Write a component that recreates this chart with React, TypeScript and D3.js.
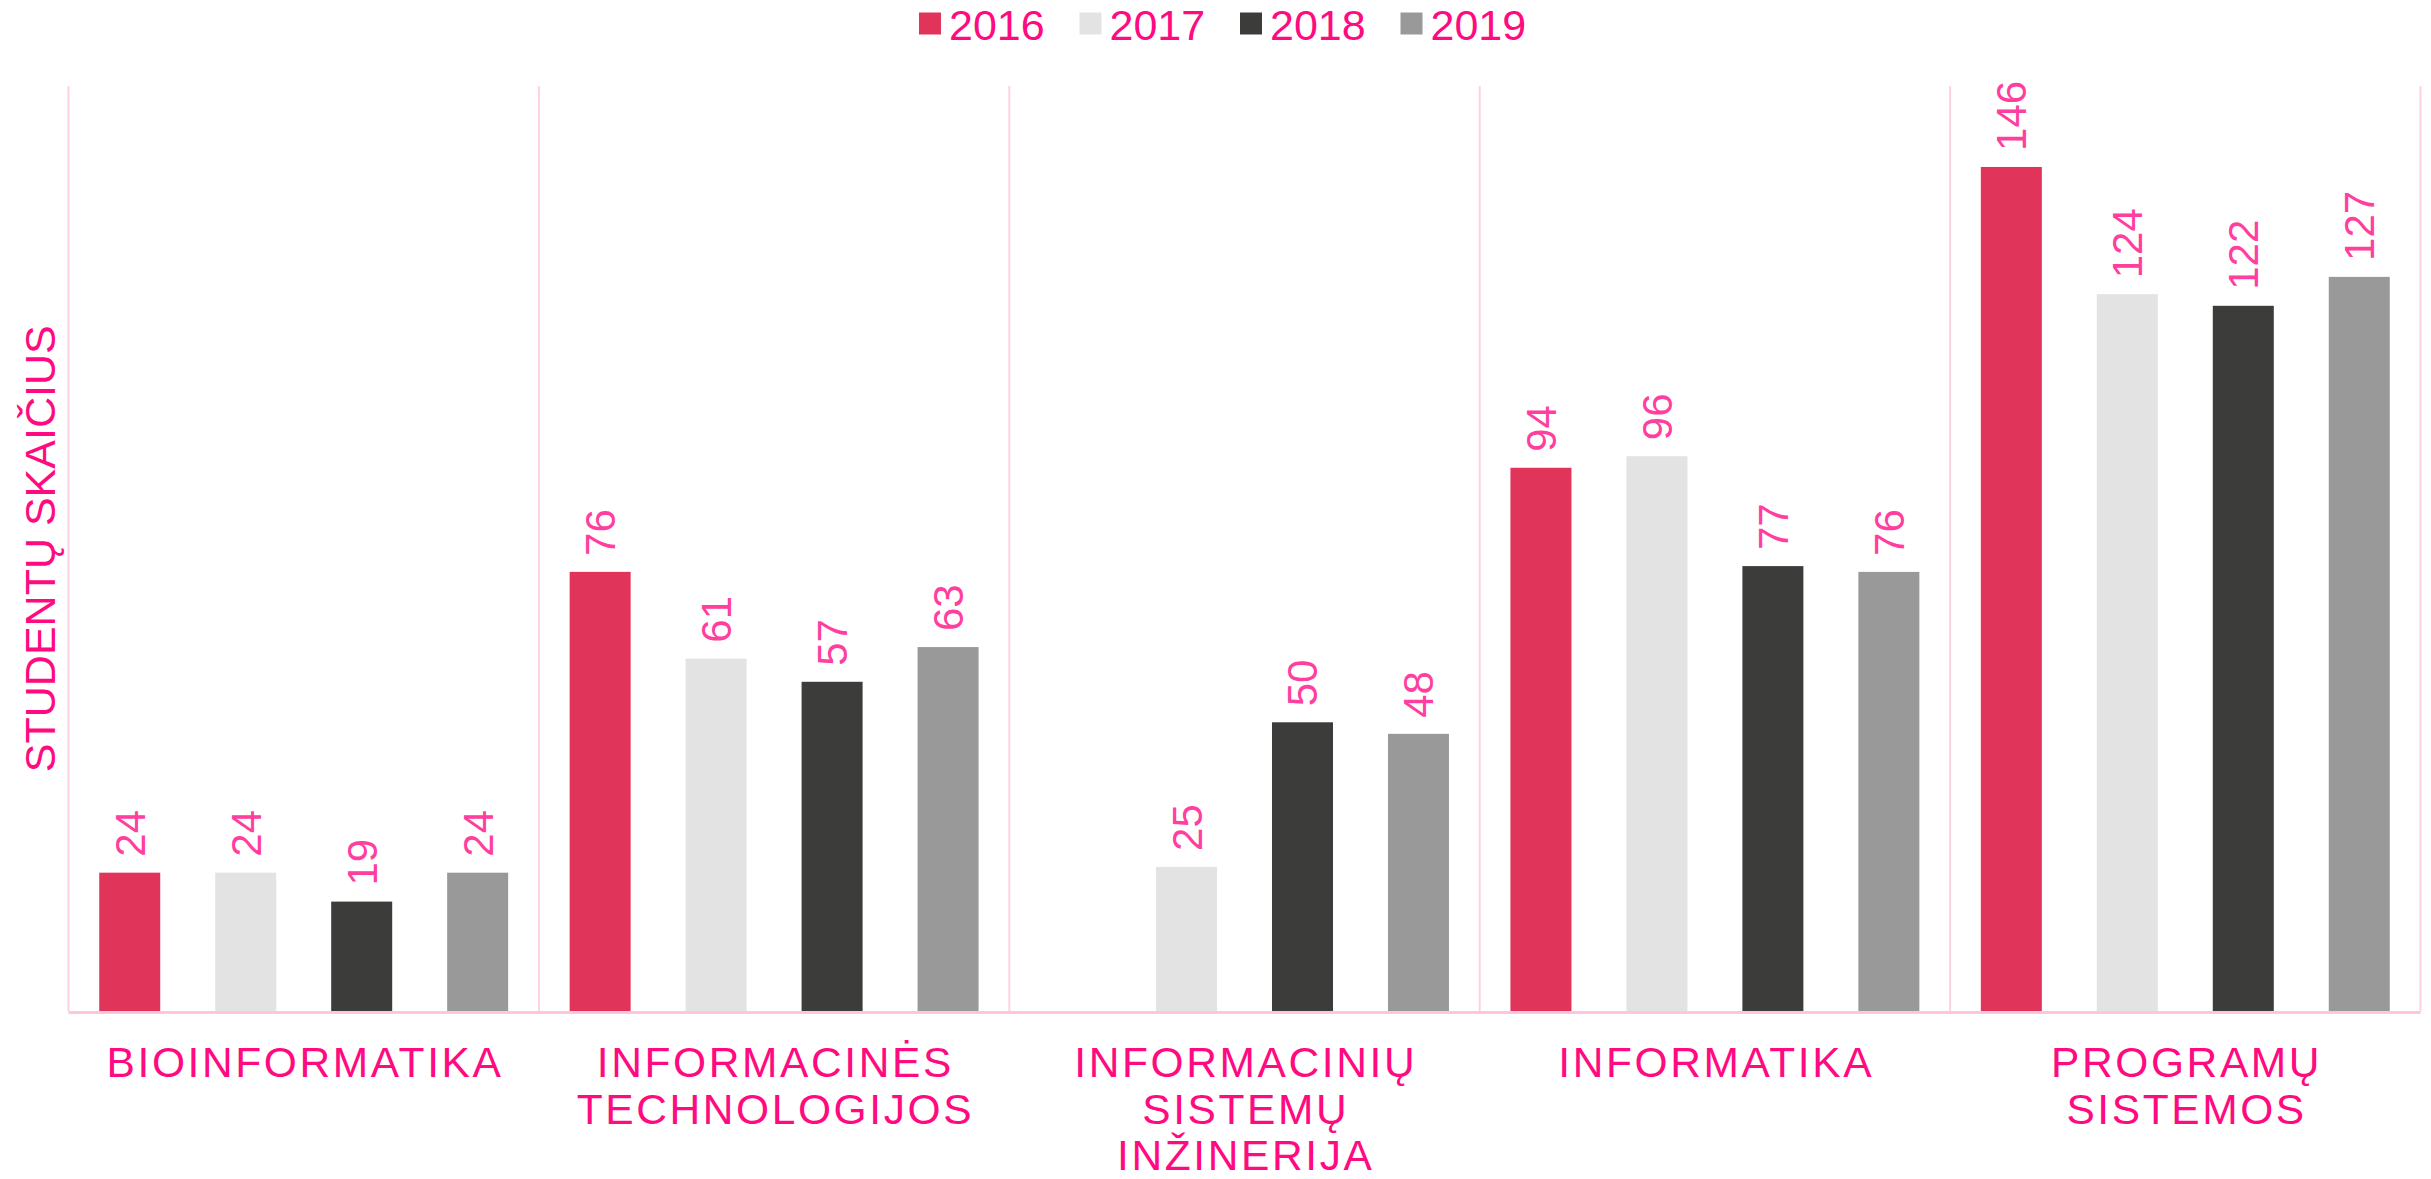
import React, { useEffect } from "react";
import * as d3 from "d3";

const categories = [
  "BIOINFORMATIKA",
  "INFORMACINĖS\nTECHNOLOGIJOS",
  "INFORMACINIŲ\nSISTEMŲ\nINŽINERIJA",
  "INFORMATIKA",
  "PROGRAMŲ\nSISTEMOS",
];
const years = ["2016", "2017", "2018", "2019"];
const values2016 = [24, 76, null, 94, 146];
const values2017 = [24, 61, 25, 96, 124];
const values2018 = [19, 57, 50, 77, 122];
const values2019 = [24, 63, 48, 76, 127];
const seriesValues = [values2016, values2017, values2018, values2019];
const colors = ["#E0345A", "#E3E3E3", "#3C3C3A", "#999999"];

const W = 2431;
const H = 1179;
const plotLeft = 68.5;
const plotRight = 2420.5;
const plotTop = 86;
const plotBottom = 1011.5;
const textColor = "#FF0A80";
const labelColor = "#FF3FA0";
const gridColor = "#FFD0E6";
const font = "'Liberation Sans', Arial, sans-serif";

export default function App() {
  useEffect(() => {
    document.body.style.margin = "0";
  }, []);

  const x0 = d3.scaleBand<string>().domain(categories).range([plotLeft, plotRight]).padding(0);
  const x1 = d3
    .scaleBand<string>()
    .domain(years)
    .range([0, x0.bandwidth()])
    .paddingInner(0.474)
    .paddingOuter(0.265);
  const y = d3.scaleLinear().domain([0, 160]).range([plotBottom, plotTop]);

  const legendX = d3.scalePoint<string>().domain(years).range([919, 919 + 3 * 160.5]);

  return (
    <svg
      width={W}
      height={H}
      style={{ position: "absolute", left: 0, top: 0, background: "#fff" }}
      fontFamily={font}
    >
      {/* legend */}
      {years.map((yr, i) => (
        <g key={yr} transform={`translate(${legendX(yr)},0)`}>
          <rect x={0} y={12.5} width={22} height={22} fill={colors[i]} />
          <text x={30} y={39.5} fontSize={43} fill={textColor}>
            {yr}
          </text>
        </g>
      ))}

      {/* category dividers */}
      {categories.map((c) => (
        <line
          key={"d" + c}
          x1={x0(c)!}
          x2={x0(c)!}
          y1={plotTop}
          y2={plotBottom}
          stroke={gridColor}
          strokeWidth={2}
        />
      ))}
      <line x1={plotRight} x2={plotRight} y1={plotTop} y2={plotBottom} stroke={gridColor} strokeWidth={2} />

      {/* bars */}
      {categories.map((c, ci) => (
        <g key={"g" + c} transform={`translate(${x0(c)},0)`}>
          {years.map((yr, si) => {
            const v = seriesValues[si][ci];
            if (v === null || v === undefined) return null;
            const bx = x1(yr)!;
            const bw = x1.bandwidth();
            const top = y(v);
            const cx = bx + bw / 2;
            return (
              <g key={yr}>
                <rect x={bx} y={top} width={bw} height={plotBottom - top} fill={colors[si]} />
                <text
                  transform={`translate(${cx + 15},${top - 16}) rotate(-90)`}
                  fontSize={42}
                  fill={labelColor}
                  textAnchor="start"
                >
                  {v}
                </text>
              </g>
            );
          })}
        </g>
      ))}

      {/* x axis line */}
      <line x1={plotLeft} x2={plotRight} y1={plotBottom + 1} y2={plotBottom + 1} stroke="#FFC4DE" strokeWidth={3} />

      {/* category labels */}
      {categories.map((c) => {
        const lines = c.split("\n");
        const cx = x0(c)! + x0.bandwidth() / 2;
        return (
          <text key={"l" + c} x={cx} y={1077} fontSize={42.5} fill={textColor} textAnchor="middle" letterSpacing={2.6}>
            {lines.map((ln, i) => (
              <tspan key={i} x={cx + 1.3} y={1077 + i * 46.5}>
                {ln}
              </tspan>
            ))}
          </text>
        );
      })}

      {/* y axis title */}
      <text
        transform={`translate(55,${(plotTop + plotBottom) / 2}) rotate(-90)`}
        textAnchor="middle"
        fontSize={43}
        fill={textColor}
      >
        STUDENTŲ SKAIČIUS
      </text>
    </svg>
  );
}
